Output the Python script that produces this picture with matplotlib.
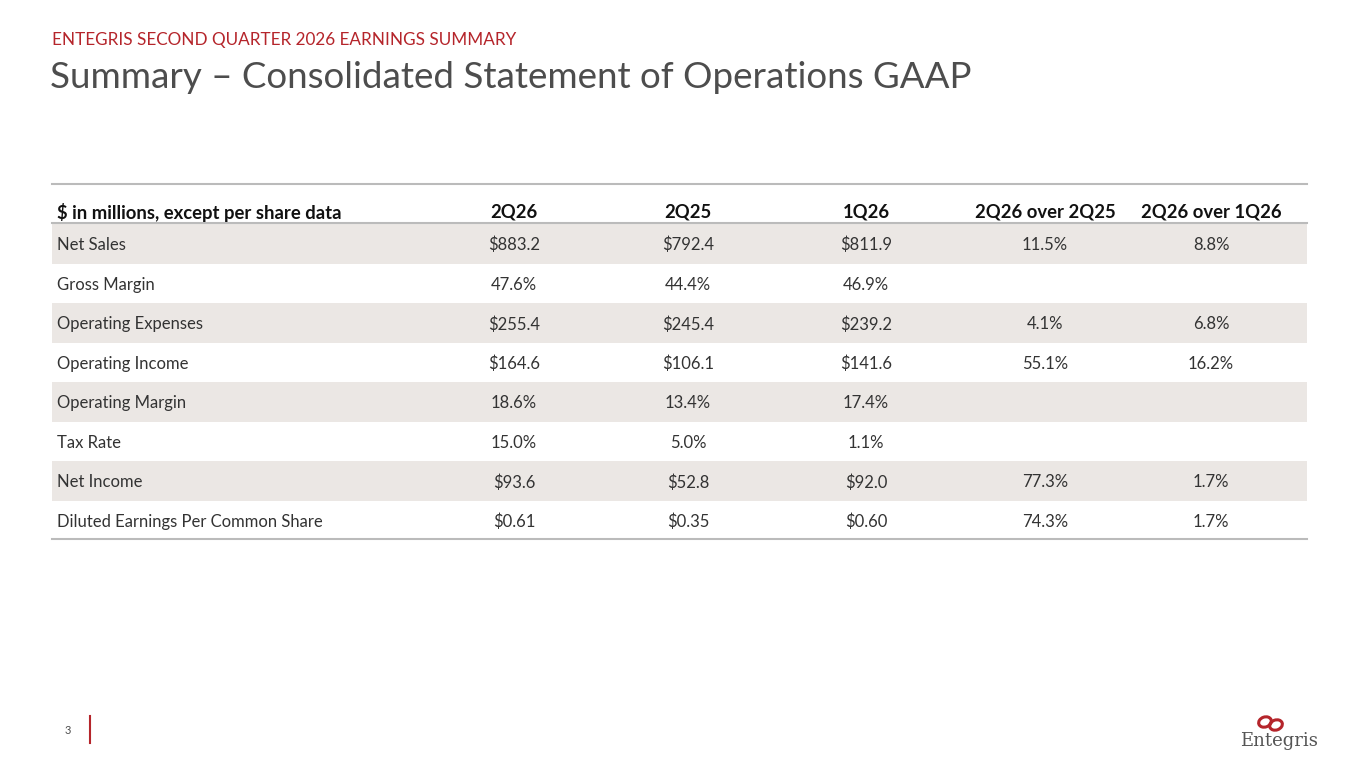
import matplotlib
matplotlib.use("Agg")
import matplotlib.pyplot as plt
from matplotlib.patches import Rectangle, Ellipse

header = ["$ in millions, except per share data", "2Q26", "2Q25", "1Q26", "2Q26 over 2Q25", "2Q26 over 1Q26"]
rows = ["Net Sales", "Gross Margin", "Operating Expenses", "Operating Income",
        "Operating Margin", "Tax Rate", "Net Income", "Diluted Earnings Per Common Share"]
q2_26 = ["$883.2", "47.6%", "$255.4", "$164.6", "18.6%", "15.0%", "$93.6", "$0.61"]
q2_25 = ["$792.4", "44.4%", "$245.4", "$106.1", "13.4%", "5.0%", "$52.8", "$0.35"]
q1_26 = ["$811.9", "46.9%", "$239.2", "$141.6", "17.4%", "1.1%", "$92.0", "$0.60"]
yoy = ["11.5%", "", "4.1%", "55.1%", "", "", "77.3%", "74.3%"]
qoq = ["8.8%", "", "6.8%", "16.2%", "", "", "1.7%", "1.7%"]

plt.rcParams['font.family'] = ['Lato', 'DejaVu Sans']
fig = plt.figure(figsize=(13.65, 7.68), dpi=100)
ax = fig.add_axes([0, 0, 1, 1])
ax.set_xlim(0, 1365); ax.set_ylim(768, 0); ax.axis('off')

red = '#B5252B'; gray = '#4D4D4D'; txt = '#333333'
ax.text(52, 39, "ENTEGRIS SECOND QUARTER 2026 EARNINGS SUMMARY", color=red, fontsize=12.3, va='center_baseline')
ax.text(50, 74, "Summary – Consolidated Statement of Operations GAAP", color=gray, fontsize=26.5, va='center_baseline')

x0, x1 = 52, 1307
ax.plot([x0, x1], [184, 184], color='#BBBBBB', lw=1.5)
ax.plot([x0, x1], [223, 223], color='#BBBBBB', lw=1.5)
colx = [57, 514, 688, 866, 1045, 1211]
ax.text(colx[0], 211, header[0], fontsize=13.3, fontweight='bold', color='#111111', va='center_baseline')
for cx, h in zip(colx[1:], header[1:]):
    ax.text(cx, 211, h, fontsize=13.3, fontweight='bold', color='#111111', va='center_baseline', ha='center')
rh = 39.5
for i, r in enumerate(rows):
    top = 224 + i * rh
    if i % 2 == 0:
        ax.add_patch(Rectangle((x0, top), x1 - x0, rh, color='#EBE7E4', lw=0))
    yc = top + rh / 2
    ax.text(colx[0], yc, r, fontsize=12, color=txt, va='center_baseline')
    for cx, v in zip(colx[1:], [q2_26[i], q2_25[i], q1_26[i], yoy[i], qoq[i]]):
        ax.text(cx, yc, v, fontsize=12, color=txt, va='center_baseline', ha='center')
ax.plot([x0, x1], [539, 539], color='#BBBBBB', lw=1.5)

ax.text(68, 731, "3", fontsize=8, color=gray, va='center', ha='center')
ax.plot([90, 90], [716, 743], color=red, lw=1.5)

ax.add_patch(Ellipse((1265, 722), 13, 10, angle=-20, fill=False, ec=red, lw=2.2))
ax.add_patch(Ellipse((1276, 725), 13, 10, angle=-20, fill=False, ec=red, lw=2.2))
ax.text(1279, 741, "Entegris", family='DejaVu Serif', fontsize=13, color='#555555', ha='center', va='center')
fig.savefig("out.png", dpi=100, facecolor='white')
